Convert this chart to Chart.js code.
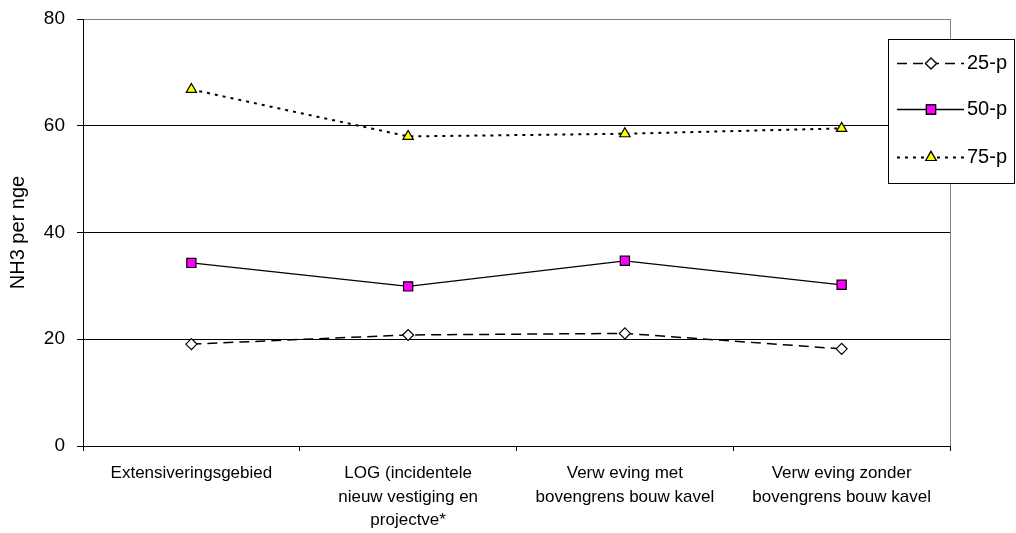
<!DOCTYPE html>
<html>
<head>
<meta charset="utf-8">
<script src="https://cdn.jsdelivr.net/npm/chart.js@4/dist/chart.umd.min.js"></script>
<style>
  html, body { margin: 0; padding: 0; background: #fff; }
  #wrap { width: 1016px; height: 533px; position: relative; }
</style>
</head>
<body>
<div id="wrap"><canvas id="c" width="1016" height="533"></canvas></div>
<script>
// Categories (multi-line labels) and percentile series
const categories = [
  ["Extensiveringsgebied"],
  ["LOG (incidentele", "nieuw vestiging en", "projectve*"],
  ["Verw eving met", "bovengrens bouw kavel"],
  ["Verw eving zonder", "bovengrens bouw kavel"]
];
const p25 = [19.1, 20.8, 21.1, 18.2];
const p50 = [34.3, 29.9, 34.7, 30.2];
const p75 = [66.8, 58.0, 58.5, 59.5];
const yTicks = [0, 20, 40, 60, 80];
const seriesNames = ["25-p", "50-p", "75-p"];

const FONT = "'Liberation Sans', Arial, sans-serif";

const datasets = [
  {
    label: seriesNames[0], data: p25,
    borderColor: '#000', borderWidth: 1.5, borderDash: [10, 6],
    pointStyle: 'rectRot', pointRadius: 5.5, pointBorderWidth: 1.2,
    pointBackgroundColor: '#fff', pointBorderColor: '#000', tension: 0
  },
  {
    label: seriesNames[1], data: p50,
    borderColor: '#000', borderWidth: 1.3,
    pointStyle: 'rect', pointRadius: 6.5, pointBorderWidth: 1.2,
    pointBackgroundColor: '#ff00ff', pointBorderColor: '#000', tension: 0
  },
  {
    label: seriesNames[2], data: p75,
    borderColor: '#000', borderWidth: 2, borderDash: [3, 5],
    pointStyle: 'triangle', pointRadius: 6, pointBorderWidth: 1.2,
    pointBackgroundColor: '#ffff00', pointBorderColor: '#000', tension: 0
  }
];

// Frame on the right side of the plot and a boxed legend with line + marker samples
const framePlugin = {
  id: 'frameAndLegend',
  afterDraw(chart) {
    const ctx = chart.ctx;
    const a = chart.chartArea;
    ctx.save();
    ctx.strokeStyle = '#808080';
    ctx.lineWidth = 1;
    ctx.beginPath();
    ctx.moveTo(Math.round(a.right) + 0.5, a.top);
    ctx.lineTo(Math.round(a.right) + 0.5, a.bottom);
    ctx.stroke();

    // legend box
    const bx = 888.5, by = 39.5, bw = 126, bh = 144;
    ctx.fillStyle = '#fff';
    ctx.fillRect(bx, by, bw, bh);
    ctx.strokeStyle = '#000';
    ctx.strokeRect(bx, by, bw, bh);
    const rows = [63, 109, 157];
    chart.data.datasets.forEach((ds, i) => {
      const y = rows[i] + 0.5;
      ctx.strokeStyle = '#000';
      ctx.lineWidth = ds.borderWidth;
      ctx.setLineDash(ds.borderDash || []);
      ctx.beginPath();
      ctx.moveTo(897, y);
      ctx.lineTo(964, y);
      ctx.stroke();
      ctx.setLineDash([]);
      ctx.lineWidth = ds.pointBorderWidth;
      Chart.helpers.drawPoint(ctx, {
        pointStyle: ds.pointStyle, radius: ds.pointRadius,
        borderWidth: ds.pointBorderWidth, rotation: 0
      }, 931, y);
      ctx.fillStyle = ds.pointBackgroundColor;
      ctx.strokeStyle = '#000';
      ctx.fill();
      ctx.stroke();
      ctx.fillStyle = '#000';
      ctx.font = '20px ' + FONT;
      ctx.textAlign = 'left';
      ctx.textBaseline = 'middle';
      ctx.fillText(ds.label, 967, y);
    });
    ctx.restore();
  }
};

new Chart(document.getElementById('c'), {
  type: 'line',
  data: { labels: categories, datasets },
  options: {
    responsive: false,
    animation: false,
    devicePixelRatio: 1,
    layout: { padding: { top: 19, right: 66, left: 0, bottom: 0 } },
    plugins: { legend: { display: false }, tooltip: { enabled: false } },
    scales: {
      x: {
        offset: true,
        grid: { offset: true, drawOnChartArea: false, drawTicks: true, tickLength: 5, color: '#000' },
        border: { color: '#000', width: 1 },
        ticks: { color: '#000', font: { family: FONT, size: 17, lineHeight: 1.38 }, padding: 11, maxRotation: 0, autoSkip: false },
        afterFit(scale) { scale.height = 87; }
      },
      y: {
        min: 0, max: 80,
        afterBuildTicks(scale) { scale.ticks = yTicks.map(v => ({ value: v })); },
        grid: {
          color: ctx => (ctx.tick && ctx.tick.value === 80) ? '#808080' : '#000',
          tickColor: '#000', tickLength: 6, lineWidth: 1
        },
        border: { color: '#000', width: 1 },
        ticks: { color: '#000', font: { family: FONT, size: 19 }, padding: 12 },
        title: { display: true, text: 'NH3 per nge', color: '#000', font: { family: FONT, size: 20 }, padding: { top: 6, bottom: 0 } },
        afterFit(scale) { scale.width = 83; scale.paddingTop = 0; scale.paddingBottom = 0; }
      }
    }
  },
  plugins: [framePlugin]
});
</script>
</body>
</html>
